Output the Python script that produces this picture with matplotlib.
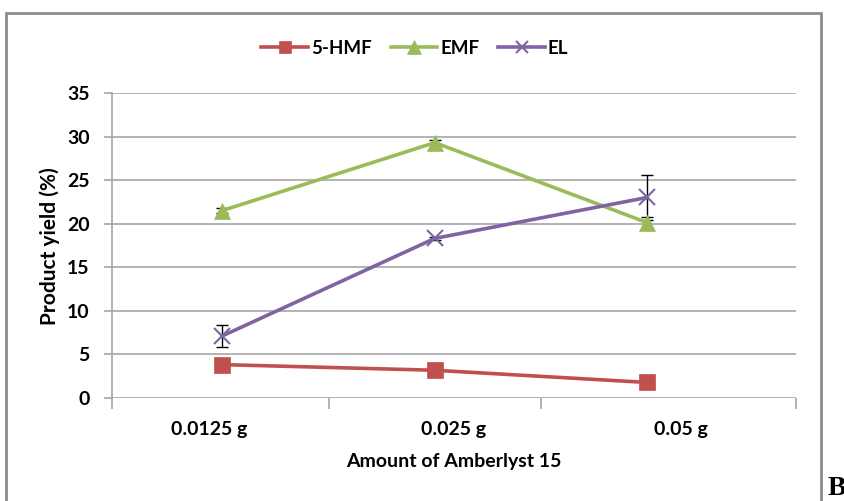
import matplotlib.pyplot as plt
import matplotlib.patches as mpatches
import numpy as np

# data
categories = ['0.0125 g', '0.025 g', '0.05 g']
hmf = [3.8, 3.15, 1.75]
hmf_err = [0.1, 0.1, 0.1]
emf = [21.5, 29.3, 20.1]
emf_err = [0.3, 0.3, 0.6]
el = [7.1, 18.3, 23.0]
el_err = [1.3, 0.2, 2.6]

plt.rcParams['font.family'] = ['Lato', 'DejaVu Sans']
plt.rcParams['font.weight'] = 'bold'

fig = plt.figure(figsize=(8.45, 5.01), dpi=100)
ax = fig.add_axes([0.1325, 0.2062, 0.8095, 0.6082])

x = np.arange(len(categories))
grid_c = '#a6a6a6'
fs = 14

series = [
    ('5-HMF', hmf, hmf_err, '#C0504D', 's', 11),
    ('EMF', emf, emf_err, '#9BBB59', '^', 12),
    ('EL', el, el_err, '#8064A2', 'x', 11),
]
for name, vals, err, col, mk, ms in series:
    ax.errorbar(x, vals, yerr=err, fmt='none', ecolor='black', elinewidth=1,
                capsize=4, capthick=1, zorder=2)
    ax.plot(x, vals, color=col, lw=2.6, marker=mk, markersize=ms,
            markeredgewidth=1.5 if mk == 'x' else 0.5, markeredgecolor=col,
            label=name, zorder=3)

ax.set_ylim(0, 35)
ax.set_yticks(np.arange(0, 36, 5))
ax.set_xlim(-0.52, 2.70)
ax.set_xticks([-0.52, 0.5, 1.5, 2.70])
ax.set_xticklabels([])
ax.tick_params(axis='x', length=8, color=grid_c, width=1.2)
ax.tick_params(axis='y', length=6, color=grid_c, width=1.2, labelsize=fs, pad=10)
ax.yaxis.grid(True, color=grid_c, lw=1.2)
ax.set_axisbelow(True)
for s in ['top', 'right', 'bottom']:
    ax.spines[s].set_visible(False)
ax.spines['left'].set_color(grid_c)
ax.spines['left'].set_linewidth(1.2)

# category labels (Excel places them slightly off the markers here)
label_pos = [-0.06, 1.09, 2.16]
for p, lab in zip(label_pos, categories):
    ax.text(p, -3.6, lab, ha='center', va='center', fontsize=fs,
            fontweight='bold', transform=ax.transData)

fig.text(0.537, 0.078, 'Amount of Amberlyst 15', ha='center', va='center',
         fontsize=fs, fontweight='bold')
fig.text(0.059, 0.509, 'Product yield (%)', ha='center', va='center',
         rotation=90, fontsize=15, fontweight='bold')

fig.legend(loc='center', bbox_to_anchor=(0.491, 0.904), ncol=3, frameon=False,
           fontsize=13.5, handlelength=2.5, columnspacing=1.0, handletextpad=0.15,
           markerscale=0.85)

# outer frame of the chart
fig.patches.append(mpatches.Rectangle((6 / 845, -0.01), 815 / 845, 1 - 13 / 501 + 0.01,
                                      transform=fig.transFigure, fill=False,
                                      edgecolor='#8c8c8c', lw=2))
fig.text(828 / 845, 0.0, 'B', ha='left', va='bottom', fontsize=20,
         fontweight='bold', family='Liberation Serif')

fig.savefig('out.png', dpi=100)
